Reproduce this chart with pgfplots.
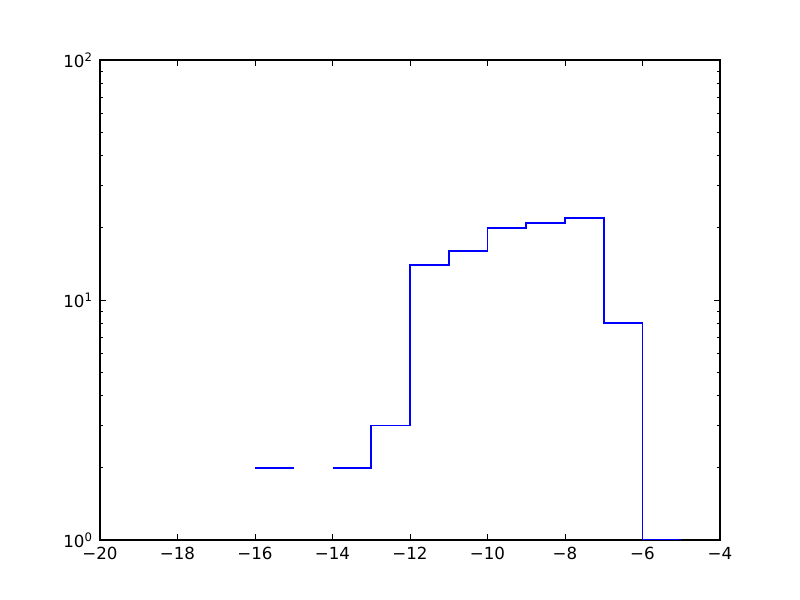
\documentclass[border=0pt]{standalone}
\usepackage{pgfplots}
\pgfplotsset{compat=1.18}
\usepackage{fontspec}
\setmainfont{DejaVu Sans}
\definecolor{mplblue}{rgb}{0,0,1}
\begin{document}
\begin{tikzpicture}[x=0.75pt,y=0.75pt]
\path (-100,-60) rectangle (700,540);
\begin{axis}[
  at={(0pt,0pt)}, anchor=south west,
  scale only axis, width=465pt, height=360pt,
  xmin=-20, xmax=-4, ymin=1, ymax=100,
  ymode=log,
  xtick={-20,-18,-16,-14,-12,-10,-8,-6,-4},
  xticklabels={−20,−18,−16,−14,−12,−10,−8,−6,−4},
  ytick={1,10,100},
  minor ytick={2,3,4,5,6,7,8,9,20,30,40,50,60,70,80,90},
  yticklabels={10\textsuperscript{0},10\textsuperscript{1},10\textsuperscript{2}},
  log basis y=10,
  tick align=inside,
  major tick length=4.2pt,
  minor tick length=2.1pt,
  every tick/.style={black, line width=0.7pt},
  axis line style={line width=0.8pt},
  xticklabel style={font=\fontsize{12.5}{15}\selectfont, yshift=-2pt},
  yticklabel style={font=\fontsize{12.5}{15}\selectfont, xshift=-2pt},
]
\addplot[draw=mplblue, line width=1.25pt, mark=none] coordinates {
 (-16,2) (-15,2)
};
\addplot[draw=mplblue, line width=1.25pt, mark=none] coordinates {
 (-14,2) (-13,2) (-13,3) (-12,3) (-12,14) (-11,14) (-11,16) (-10,16)
 (-10,20) (-9,20) (-9,21) (-8,21) (-8,22) (-7,22) (-7,8) (-6,8) (-6,1) (-5,1)
};
\end{axis}
\end{tikzpicture}
\end{document}
